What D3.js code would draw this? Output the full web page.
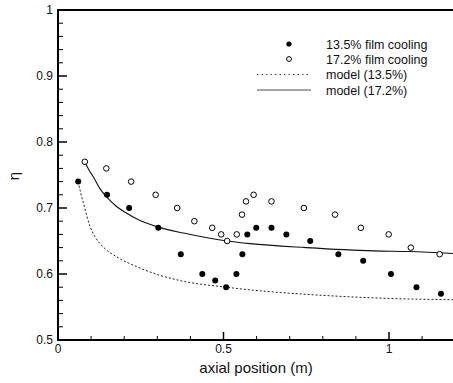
<!DOCTYPE html>
<html><head><meta charset="utf-8">
<script src="https://cdn.jsdelivr.net/npm/d3@7"></script>
<style>
html,body{margin:0;padding:0;background:#fff;}
svg{display:block;font-family:"Liberation Sans",Arial,sans-serif;}
</style></head>
<body>
<svg id="c" width="453" height="383"></svg>
<script>
// Data
const film135X = [0.061,0.148,0.215,0.303,0.371,0.436,0.475,0.508,0.539,0.557,0.572,0.599,0.645,0.690,0.762,0.847,0.922,1.006,1.083,1.157];
const film135Y = [0.74,0.72,0.70,0.67,0.63,0.60,0.59,0.58,0.60,0.63,0.66,0.67,0.67,0.66,0.65,0.63,0.62,0.60,0.58,0.57];
const film172X = [0.081,0.146,0.221,0.295,0.360,0.412,0.466,0.493,0.511,0.540,0.556,0.568,0.591,0.645,0.743,0.837,0.915,0.999,1.066,1.153];
const film172Y = [0.77,0.76,0.74,0.72,0.70,0.68,0.67,0.66,0.65,0.66,0.69,0.71,0.72,0.71,0.70,0.69,0.67,0.66,0.64,0.63];
const model135X = [0.061,0.069,0.077,0.087,0.097,0.111,0.127,0.150,0.177,0.238,0.308,0.379,0.508,0.580,0.822,1.0,1.2];
const model135Y = [0.740,0.722,0.707,0.688,0.672,0.657,0.646,0.635,0.626,0.611,0.598,0.589,0.580,0.576,0.567,0.563,0.561];
const model172X = [0.081,0.093,0.107,0.127,0.147,0.175,0.2075,0.248,0.303,0.379,0.511,0.580,0.750,0.953,1.063,1.2];
const model172Y = [0.770,0.758,0.747,0.729,0.717,0.703,0.692,0.681,0.671,0.662,0.650,0.646,0.640,0.635,0.634,0.631];
const xMajor = [0,0.5,1];
const xMajorLabels = ["0","0.5","1"];
const yMajor = [0.5,0.6,0.7,0.8,0.9,1];
const yMajorLabels = ["0.5","0.6","0.7","0.8","0.9","1"];
const legendLabels = ["13.5% film cooling","17.2% film cooling","model (13.5%)","model (17.2%)"];
const xLabel = "axial position (m)";
const yLabel = "η";

const svg = d3.select("#c");
const x = d3.scaleLinear().domain([0,1.2]).range([58,58+331*1.2]);
const y = d3.scaleLinear().domain([0.5,1]).range([340,10]);

// minor ticks
const xMinor = d3.range(0,1.21,0.1).filter(v=>!xMajor.some(m=>Math.abs(m-v)<1e-6));
const yMinor = d3.range(0.5,1.001,0.02).filter(v=>!yMajor.some(m=>Math.abs(m-v)<1e-6));

const g = svg.append("g");
// axes frame
g.append("line").attr("x1",x(0)).attr("x2",x(0)).attr("y1",y(0.5)+1).attr("y2",y(1)-1).attr("stroke","#000").attr("stroke-width",2);
g.append("line").attr("x1",x(0)-1).attr("x2",x(1.2)).attr("y1",y(0.5)).attr("y2",y(0.5)).attr("stroke","#000").attr("stroke-width",2);
g.append("line").attr("x1",x(0)-1).attr("x2",x(1.2)).attr("y1",y(1)).attr("y2",y(1)).attr("stroke","#000").attr("stroke-width",2);

// y ticks
g.selectAll(".ymaj").data(yMajor.slice(1,-1)).join("line")
  .attr("x1",x(0)).attr("x2",x(0)+9).attr("y1",d=>y(d)).attr("y2",d=>y(d)).attr("stroke","#000").attr("stroke-width",1.5);
g.selectAll(".ymin").data(yMinor).join("line")
  .attr("x1",x(0)).attr("x2",x(0)+5).attr("y1",d=>y(d)).attr("y2",d=>y(d)).attr("stroke","#000").attr("stroke-width",1);
// x ticks
g.selectAll(".xmaj").data(xMajor.slice(1)).join("line")
  .attr("x1",d=>x(d)).attr("x2",d=>x(d)).attr("y1",y(0.5)).attr("y2",y(0.5)-8).attr("stroke","#000").attr("stroke-width",1.5);
g.selectAll(".xmin").data(xMinor).join("line")
  .attr("x1",d=>x(d)).attr("x2",d=>x(d)).attr("y1",y(0.5)).attr("y2",y(0.5)-4).attr("stroke","#000").attr("stroke-width",1);

// tick labels
g.selectAll(".yl").data(yMajor).join("text")
  .attr("x",x(0)-5).attr("y",d=>y(d)+4).attr("text-anchor","end").attr("font-size",12).attr("fill","#111")
  .text((d,i)=>yMajorLabels[i]);
g.selectAll(".xl").data(xMajor).join("text")
  .attr("x",d=>x(d)).attr("y",y(0.5)+13).attr("text-anchor","middle").attr("font-size",12).attr("fill","#111")
  .text((d,i)=>xMajorLabels[i]);

// axis titles
svg.append("text").attr("x",256).attr("y",373).attr("text-anchor","middle").attr("font-size",15).attr("fill","#111").text(xLabel);
svg.append("text").attr("transform","translate(19,176) rotate(-90)").attr("text-anchor","middle").attr("font-size",15).attr("fill","#111").text(yLabel);

// model lines
const line = d3.line().x(d=>x(d[0])).y(d=>y(d[1])).curve(d3.curveMonotoneX);
g.append("path").datum(d3.zip(model135X,model135Y)).attr("d",line)
  .attr("fill","none").attr("stroke","#222").attr("stroke-width",1).attr("stroke-dasharray","2,2");
g.append("path").datum(d3.zip(model172X,model172Y)).attr("d",line)
  .attr("fill","none").attr("stroke","#111").attr("stroke-width",1.1);

// points
g.selectAll(".p1").data(d3.zip(film135X,film135Y)).join("circle")
  .attr("cx",d=>x(d[0])).attr("cy",d=>y(d[1])).attr("r",3).attr("fill","#000");
g.selectAll(".p2").data(d3.zip(film172X,film172Y)).join("circle")
  .attr("cx",d=>x(d[0])).attr("cy",d=>y(d[1])).attr("r",2.8).attr("fill","#fff").attr("stroke","#000").attr("stroke-width",1);

// legend
const lg = svg.append("g");
const rows = [44,59,74.5,90];
lg.append("circle").attr("cx",289).attr("cy",rows[0]).attr("r",2.6).attr("fill","#000");
lg.append("circle").attr("cx",289).attr("cy",rows[1]).attr("r",2.4).attr("fill","#fff").attr("stroke","#000").attr("stroke-width",1);
lg.append("line").attr("x1",257).attr("x2",311).attr("y1",rows[2]).attr("y2",rows[2]).attr("stroke","#444").attr("stroke-width",1).attr("stroke-dasharray","1.5,3");
lg.append("line").attr("x1",257).attr("x2",311).attr("y1",rows[3]).attr("y2",rows[3]).attr("stroke","#888").attr("stroke-width",1.3);
lg.selectAll("text").data(legendLabels).join("text")
  .attr("x",326).attr("y",(d,i)=>rows[i]+4.5).attr("font-size",12.5).attr("fill","#111").text(d=>d);
</script>
</body></html>
